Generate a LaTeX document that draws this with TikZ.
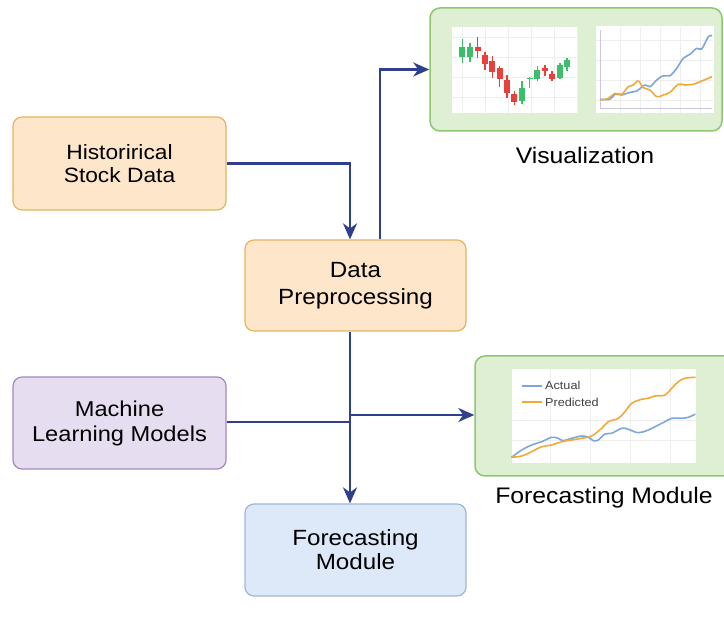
\documentclass[tikz,border=0pt]{standalone}
\usepackage{fontspec}
\setmainfont{Liberation Sans}[FakeStretch=1.1]
\usetikzlibrary{arrows.meta,calc}
\definecolor{orfill}{HTML}{FDE6CA}
\definecolor{ordraw}{HTML}{E6B560}
\definecolor{pufill}{HTML}{E6DEF0}
\definecolor{pudraw}{HTML}{A588BE}
\definecolor{blfill}{HTML}{DDE9F8}
\definecolor{bldraw}{HTML}{9DB7D9}
\definecolor{grfill}{HTML}{DEEFD4}
\definecolor{grdraw}{HTML}{8DC770}
\definecolor{arr}{HTML}{2F3F8C}
\definecolor{cgreen}{HTML}{3DBE6A}
\definecolor{cred}{HTML}{E8413C}
\definecolor{lblue}{HTML}{7FA6DC}
\definecolor{lorange}{HTML}{F2A93B}
\definecolor{gridc}{HTML}{EEEEEE}
\definecolor{axisc}{HTML}{C8C8E0}
\begin{document}
\begin{tikzpicture}[x=1pt,y=-1pt,
  box/.style={rectangle,rounded corners=9pt,line width=1.2pt,align=center,
    font=\fontsize{21}{24}\selectfont,inner sep=0pt},
  obox/.style={box,fill=orfill,draw=ordraw},
  pbox/.style={box,fill=pufill,draw=pudraw},
  bbox/.style={box,fill=blfill,draw=bldraw},
  panel/.style={rectangle,rounded corners=10pt,line width=1.5pt,fill=grfill,draw=grdraw,inner sep=0pt},
  lbl/.style={font=\fontsize{22.5}{26}\selectfont,inner sep=0pt},
  conn/.style={draw=arr,line width=2.3pt},
  arrow/.style={conn,-{Stealth[length=16pt,width=14pt,inset=5pt]}},
  chartbg/.style={fill=white,draw=none},
  candle/.style={line width=1.1pt},
  ln/.style={line width=1.6pt,line join=round,line cap=round}]
\useasboundingbox (0,0) rectangle (724,620);
\clip (0,0) rectangle (724,620);
\fill[white] (0,0) rectangle (724,620);

% boxes
\node[obox,minimum width=213pt,minimum height=93pt,font=\fontsize{20.7}{23}\selectfont] (hist) at (119.5,163.5) {Historirical\\Stock Data};
\node[obox,minimum width=221pt,minimum height=91pt,font=\fontsize{22}{27}\selectfont] (prep) at (355.5,285.5) {Data\\Preprocessing};
\node[pbox,minimum width=213pt,minimum height=92pt,font=\fontsize{21.5}{25}\selectfont] (ml) at (119.5,423) {Machine\\Learning Models};
\node[bbox,minimum width=221pt,minimum height=92pt,font=\fontsize{22}{24}\selectfont] (fore) at (355.5,550) {Forecasting\\Module};

% panels
\node[panel,minimum width=292pt,minimum height=123pt] (vis) at (576,69.5) {};
\node[panel,minimum width=265pt,minimum height=120pt] (fpan) at (607.5,416) {};
\node[lbl] (vislbl) at (585,155) {Visualization};
\node[lbl] (fpanlbl) at (604,498) {Forecasting Module};

% candlestick chart
\node[chartbg,minimum width=126pt,minimum height=86pt,inner sep=0pt] (cs) at (515,70) {};
\begin{scope}
\clip (cs.north west) rectangle (cs.south east);
\foreach \gx in {462,485,508,531,554,577} \draw[gridc,line width=0.6pt] (\gx,27) -- (\gx,113);
\foreach \gy in {37,57,77,97} \draw[gridc,line width=0.6pt] (452,\gy) -- (578,\gy);
\end{scope}
\foreach \cx/\bt/\bb/\wt/\wb/\cc in {
 462.3/46.7/56.7/39.3/62.7/cgreen,
 470/46.7/56.7/43.3/61.7/cgreen,
 477.7/46.7/50.7/36.7/58.3/cred,
 485/55/64.3/51.7/70/cred,
 492.3/61/71.7/55.7/77.7/cred,
 499.7/67.7/79/65.7/86.7/cred,
 507/80/93.3/75/98.3/cred,
 514.3/94.3/101.7/91/105/cred,
 522/87.7/101/81/104.3/cgreen,
 529.7/77.7/79.5/76.7/88.3/cgreen,
 537.3/70/79/65.7/81/cgreen,
 545/68.3/71/65/75.7/cred,
 552/74.3/79/71/81/cred,
 560/65/77.7/63.3/79/cgreen,
 567/60/66.7/57.7/71/cgreen} {
  \draw[\cc,candle] (\cx,\wt) -- (\cx,\wb);
  \fill[\cc] (\cx-3,\bt) rectangle (\cx+3,\bb);
}

% line chart in visualization panel
\node[chartbg,minimum width=118pt,minimum height=87pt,inner sep=0pt] (lc) at (654.5,70) {};
\begin{scope}
\clip (lc.north west) rectangle (lc.south east);
\foreach \gx in {620,640,660,680,700} \draw[gridc,line width=0.6pt] (\gx,27) -- (\gx,113);
\foreach \gy in {40,60,80,100} \draw[gridc,line width=0.6pt] (596,\gy) -- (713,\gy);
\end{scope}
\draw[axisc,line width=1pt] (600.7,30) -- (600.7,109) -- (712,109);
\draw[lblue,ln] plot[smooth,tension=0.6] coordinates {
 (600.7,99.3) (610,99.3) (615,94.3) (621.7,95) (630,92.3) (636.7,91) (645,85) (650,86.7) (656.7,80) (663.3,75.7) (670,75.7) (676.7,68.3) (683.3,58.3) (690,54.3) (696.7,48.3) (701.7,49) (708.3,36.7) (711.7,35.7)};
\draw[lorange,ln] plot[smooth,tension=0.6] coordinates {
 (600.7,100) (608.3,98.3) (615,93.3) (621.7,94.3) (628.3,86.7) (633.3,85) (638.3,81) (643.3,87.7) (650,90) (656.7,96.7) (663.3,95) (670,92.3) (678.3,84.3) (685,85) (693.3,84.3) (700,81.7) (706.7,79) (711.7,76.7)};

% forecast chart
\node[chartbg,minimum width=184pt,minimum height=94pt,inner sep=0pt] (fc) at (603.7,416.3) {};
\begin{scope}
\clip (fc.north west) rectangle (fc.south east);
\foreach \gx in {550,590,630,670} \draw[gridc,line width=0.6pt] (\gx,369) -- (\gx,464);
\foreach \gy in {420,440} \draw[gridc,line width=0.6pt] (512,\gy) -- (696,\gy);
\end{scope}
\draw[lblue,line width=1.8pt] (521.7,385.7) -- (541.7,385.7);
\node[anchor=west,inner sep=0pt,font=\fontsize{11.5}{13}\selectfont,text=black!75] (lga) at (545,385.7) {Actual};
\draw[lorange,line width=1.8pt] (521.7,402.3) -- (541.7,402.3);
\node[anchor=west,inner sep=0pt,font=\fontsize{11.5}{13}\selectfont,text=black!75] (lgp) at (545,402.3) {Predicted};
\draw[lblue,ln] plot[smooth,tension=0.6] coordinates {
 (511.7,457.3) (521.7,450) (531.7,445) (541.7,441.7) (551.7,437.3) (558.3,438.3) (563.3,440.7) (571.7,438.3) (581.7,436) (588.3,437.3) (593.3,440.7) (598.3,440) (605,434) (611.7,433.3) (621.7,428.3) (628.3,429.3) (638.3,432.7) (648.3,430) (658.3,425) (665,421.7) (671.7,418.3) (681.7,418.3) (688.3,417.3) (695,414.3)};
\draw[lorange,ln] plot[smooth,tension=0.6] coordinates {
 (511.7,457.3) (521.7,456) (531.7,451.7) (541.7,446.7) (551.7,445) (561.7,441.7) (571.7,440) (581.7,438.3) (591.7,436) (601.7,428.3) (608.3,421.7) (618.3,418.3) (625,411.7) (631.7,403.3) (641.7,399.3) (648.3,398.3) (655,396) (665,395) (671.7,388.3) (678.3,381.7) (685,378.3) (695,377.3)};

% connectors
\coordinate (j1) at ($(prep.south)+(-5.5,0)$);
\coordinate (mlend) at (350,422);
\coordinate (fstart) at (350,415);
\draw[arrow] (hist.east) -| ($(prep.north)+(-5.5,0)$);
\draw[arrow] ($(prep.north)+(24.5,0)$) |- (vis.west);
\draw[arrow] (j1) -- ($(fore.north)+(-5.5,0)$);
\draw[conn] (ml.east |- mlend) -- (mlend);
\draw[arrow] (fstart) -- (fstart -| fpan.west);
\end{tikzpicture}
\end{document}
